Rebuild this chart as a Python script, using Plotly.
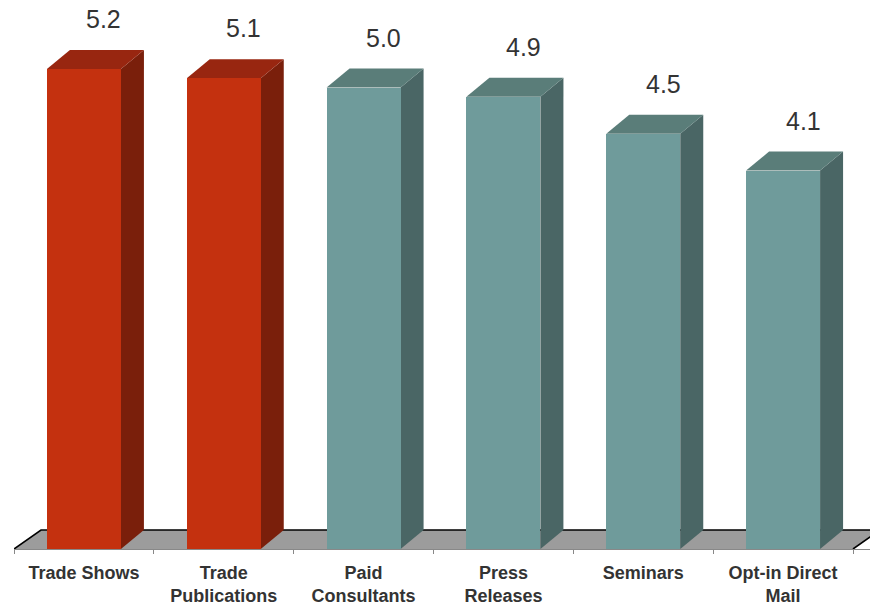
import plotly.graph_objects as go

# ---- data ----
categories = ["Trade Shows", "Trade<br>Publications", "Paid<br>Consultants",
              "Press<br>Releases", "Seminars", "Opt-in Direct<br>Mail"]
values = [5.2, 5.1, 5.0, 4.9, 4.5, 4.1]
value_labels = ["5.2", "5.1", "5.0", "4.9", "4.5", "4.1"]
highlighted = [True, True, False, False, False, False]

# ---- styles ----
RED = dict(front="#C4310F", side="#7A1F0B", top="#982610")
TEAL = dict(front="#6F9B9B", side="#4A6665", top="#5A7D79")
FLOOR = "#9C9C9C"
FONT = "Arial, Liberation Sans, sans-serif"

W, H = 870, 603
ML, MR, MT, MB = 14, 0, 0, 54
XMIN, XMAX = -0.5, 5.6216
YMAX = 5.948
px_x = (W - ML - MR) / (XMAX - XMIN)   # px per category unit
px_y = (H - MT - MB) / YMAX            # px per value unit

BAR_W = 74 / px_x
DX, DY = 23 / px_x, 19 / px_y          # bar depth
FDX, FDY = 27 / px_x, 19 / px_y        # floor depth

fig = go.Figure()
xs = list(range(len(categories)))
colors = [(RED if h else TEAL) for h in highlighted]

fig.add_trace(go.Bar(
    x=xs, y=values, width=BAR_W,
    marker=dict(color=[c["front"] for c in colors], line=dict(width=0)),
    hoverinfo="skip", showlegend=False,
))

shapes = []
n = len(categories)
# floor
x0f, x1f = -0.5, n - 0.5
shapes.append(dict(type="path", xref="x", yref="y", layer="below",
                   path=f"M{x0f},0 L{x0f+FDX},{FDY} L{x1f+FDX},{FDY} L{x1f},0 Z",
                   fillcolor=FLOOR, line=dict(width=0)))
shapes.append(dict(type="path", xref="x", yref="y", layer="below",
                   path=f"M{x0f},0 L{x0f+FDX},{FDY} L{x1f+FDX},{FDY} L{x1f},0",
                   line=dict(color="black", width=1.6)))

annotations = []
for i, (v, c, lab) in enumerate(zip(values, colors, value_labels)):
    x0, x1 = i - BAR_W / 2, i + BAR_W / 2
    # side face
    shapes.append(dict(type="path", xref="x", yref="y", layer="below",
                       path=f"M{x1},0 L{x1+DX},{DY} L{x1+DX},{v+DY} L{x1},{v} Z",
                       fillcolor=c["side"], line=dict(width=0)))
    # top face
    shapes.append(dict(type="path", xref="x", yref="y", layer="below",
                       path=f"M{x0},{v} L{x0+DX},{v+DY} L{x1+DX},{v+DY} L{x1},{v} Z",
                       fillcolor=c["top"], line=dict(width=0)))
    annotations.append(dict(x=i + 20 / px_x, y=v + DY, xref="x", yref="y",
                            text=lab, showarrow=False, yanchor="middle",
                            yshift=31, font=dict(family=FONT, size=25, color="#333333")))

fig.update_layout(
    width=W, height=H,
    margin=dict(l=ML, r=MR, t=MT, b=MB, autoexpand=False),
    paper_bgcolor="white", plot_bgcolor="white",
    shapes=shapes, annotations=annotations,
    bargap=0, showlegend=False,
    xaxis=dict(range=[XMIN, XMAX], tickmode="array",
               tickvals=xs, ticktext=categories, automargin=False,
               ticks="", showline=True, linecolor="#888888", linewidth=1,
               showgrid=False, zeroline=False, fixedrange=True,
               ticklabelstandoff=7,
               tickfont=dict(family=FONT, size=18, color="#333333", weight="bold")),
    xaxis2=dict(range=[XMIN, XMAX], overlaying="x", side="bottom",
                tickmode="array", tickvals=[k - 0.5 for k in range(n + 1)],
                ticktext=[""] * (n + 1), ticks="outside", ticklen=4,
                automargin=False,
                tickcolor="#888888", showline=False, showgrid=False,
                zeroline=False, fixedrange=True),
    yaxis=dict(range=[0, YMAX], visible=False, fixedrange=True, automargin=False),
)
# dummy trace so xaxis2 is drawn
fig.add_trace(go.Scatter(x=[None], y=[None], xaxis="x2", yaxis="y",
                         showlegend=False, hoverinfo="skip"))

fig.write_html("out.html", config={"displayModeBar": False},
               post_script="document.body.style.margin='0';document.body.style.overflow='hidden';")
